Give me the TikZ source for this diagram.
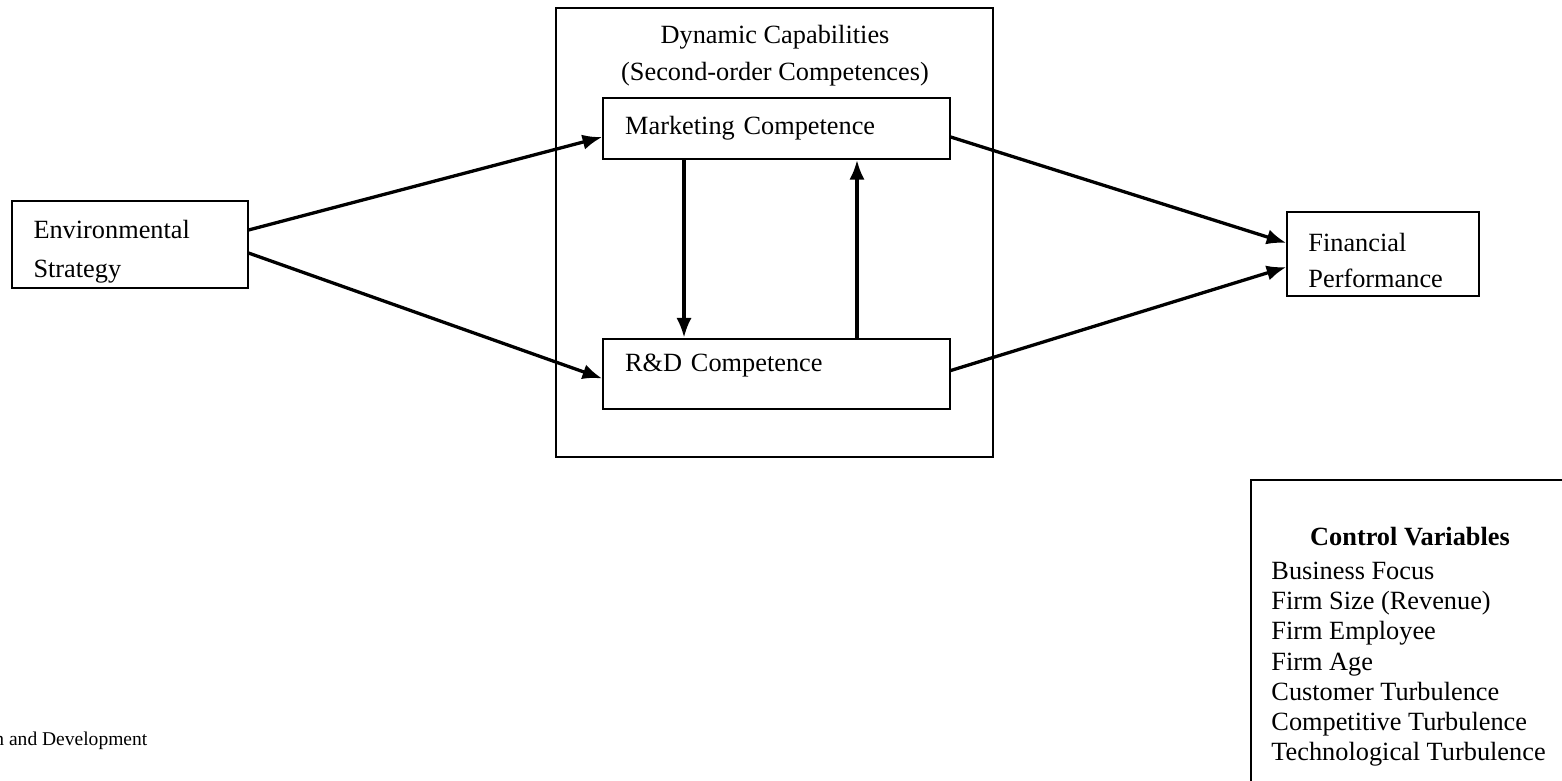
\documentclass[tikz,border=0pt]{standalone}
\usepackage{fontspec}
\setmainfont{Liberation Serif}
\usepackage{tikz}
\usetikzlibrary{positioning, calc, arrows.meta}

\begin{document}
\begin{tikzpicture}[
    x=0.456pt, y=-0.456pt,
    box/.style={rectangle, draw, line width=0.9pt, align=left, inner ysep=0pt},
    arrow/.style={-{Latex[length=9pt, width=7pt]}, line width=1.5pt},
    txt/.style={font=\fontsize{12}{17}\selectfont}
]
    \useasboundingbox (0,0) rectangle (1562,780);
    \clip (0,0) rectangle (1562,780);

    % outer frame of the dynamic capabilities
    \node[draw, line width=0.9pt, minimum width=199.3pt, minimum height=204.7pt, inner sep=0pt] (dyncap) at (774.5,232.5) {};
    \node[txt, align=center, font=\fontsize{12}{16.9}\selectfont] (dyntitle) at (775,56) {Dynamic Capabilities\\(Second-order Competences)};

    \node[box, txt, text width=88pt, inner xsep=9.6pt, minimum height=39.7pt, font=\fontsize{12}{17.8}\selectfont,
          execute at begin node={\rule{0pt}{15.3pt}}] (env) at (130,244.5) {Environmental\\Strategy};
    \node[box, txt, text width=138pt, inner xsep=10pt, minimum height=27.8pt] (mkt) at (776.5,128.5) {Marketing Competence};
    \node[box, txt, text width=138pt, inner xsep=10pt, text height=8.5pt, text depth=11pt, inner ysep=6.4pt] (rnd) at (776.5,374) {R\&D Competence};
    \node[box, txt, text width=68pt, inner xsep=9.6pt, minimum height=38.3pt, font=\fontsize{12}{16.4}\selectfont,
          execute at begin node={\rule{0pt}{14.3pt}}] (fin) at (1383,254) {Financial\\Performance};

    \draw[arrow] ($(env.east)+(0,-14.5)$) -- ($(mkt.west)+(0,8.5)$);
    \draw[arrow] ($(env.east)+(0,8.5)$) -- ($(rnd.west)+(0,4.5)$);
    \draw[arrow] ($(mkt.south)+(-92.5,0)$) -- ($(rnd.north)+(-92.5,0)$);
    \draw[arrow] ($(rnd.north)+(80.5,0)$) -- ($(mkt.south)+(80.5,0)$);
    \draw[arrow] ($(mkt.east)+(0,8.5)$) -- ($(fin.west)+(0,-11)$);
    \draw[arrow] ($(rnd.east)+(0,-3.5)$) -- ($(fin.west)+(0,13)$);

    % control variables
    \draw[line width=0.9pt] (1251,480) rectangle (1600,820);
    \node[font=\fontsize{12}{14}\selectfont\bfseries] (ctrltitle) at (1410,537) {Control Variables};
    \node[anchor=north west, inner sep=0pt, align=left, font=\fontsize{12}{13.7}\selectfont] (ctrlitems) at (1271,562) {Business Focus\\Firm Size (Revenue)\\Firm Employee\\Firm Age\\Customer Turbulence\\Competitive Turbulence\\Technological Turbulence};

    \node[anchor=base west, inner sep=0pt, font=\fontsize{8.9}{11}\selectfont] (note) at (-6,745) {n and Development};
\end{tikzpicture}
\end{document}
